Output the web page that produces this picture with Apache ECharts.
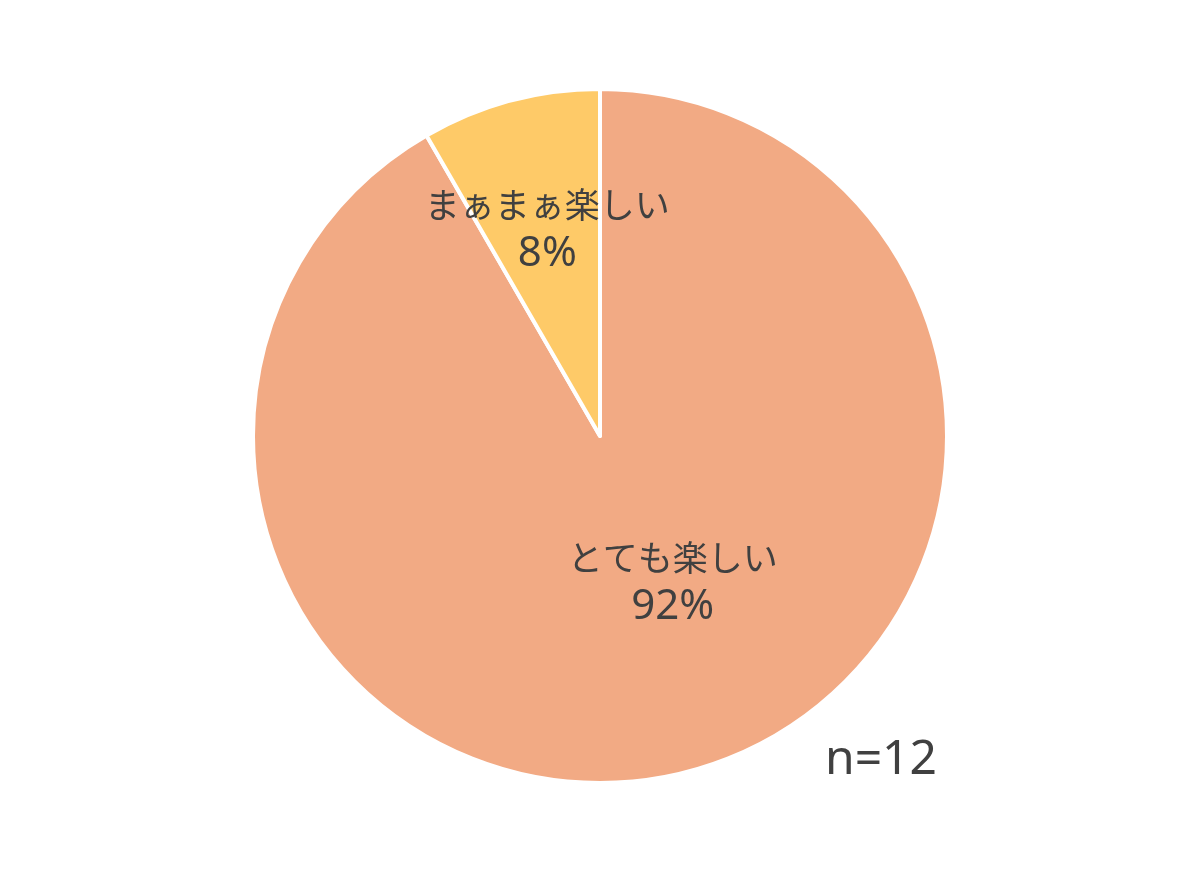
<!DOCTYPE html>
<html>
<head>
<meta charset="utf-8">
<script src="https://cdn.jsdelivr.net/npm/echarts@6/dist/echarts.min.js"></script>
<style>
  html, body { margin: 0; padding: 0; background: #fff; }
  #chart { width: 1200px; height: 872px; }
</style>
</head>
<body>
<div id="chart"></div>
<script>
const categories = ['とても楽しい', 'まぁまぁ楽しい'];
const counts = [11, 1];
const sliceColors = ['#F2AA84', '#FECA68'];
const sampleLabel = 'n=12';

const total = counts.reduce((a, b) => a + b, 0);

// nudge labels toward where the original sits them
const labelNudge = [[27, -24], [-7, -36]];

const chart = echarts.init(document.getElementById('chart'));
chart.setOption({
    animation: false,
    backgroundColor: '#ffffff',
    textStyle: { fontFamily: '"Noto Sans CJK JP", "Noto Sans", sans-serif' },
    series: [{
        type: 'pie',
        center: [600, 436],
        radius: 347,
        startAngle: 90,
        clockwise: true,
        label: {
            show: true,
            position: 'inside',
            color: '#404040',
            formatter: p => '{n|' + p.name + '}\n{p|' + Math.round(p.value / total * 100) + '%}',
            rich: {
                n: {
                    fontSize: 35,
                    lineHeight: 50,
                    color: '#404040',
                    fontFamily: '"Noto Sans CJK JP", sans-serif'
                },
                p: {
                    fontSize: 42,
                    lineHeight: 50,
                    color: '#404040',
                    fontFamily: '"Noto Sans", sans-serif'
                }
            }
        },
        labelLine: { show: false },
        itemStyle: { borderColor: '#ffffff', borderWidth: 4 },
        emphasis: { disabled: true },
        data: categories.map((name, i) => ({
            name,
            value: counts[i],
            itemStyle: { color: sliceColors[i] },
            label: { offset: labelNudge[i] }
        }))
    }],
    graphic: [{
        type: 'text',
        right: 263,
        top: 736,
        style: {
            text: sampleLabel,
            fill: '#404040',
            fontSize: 48,
            fontFamily: '"Noto Sans", sans-serif'
        }
    }]
});
</script>
</body>
</html>
